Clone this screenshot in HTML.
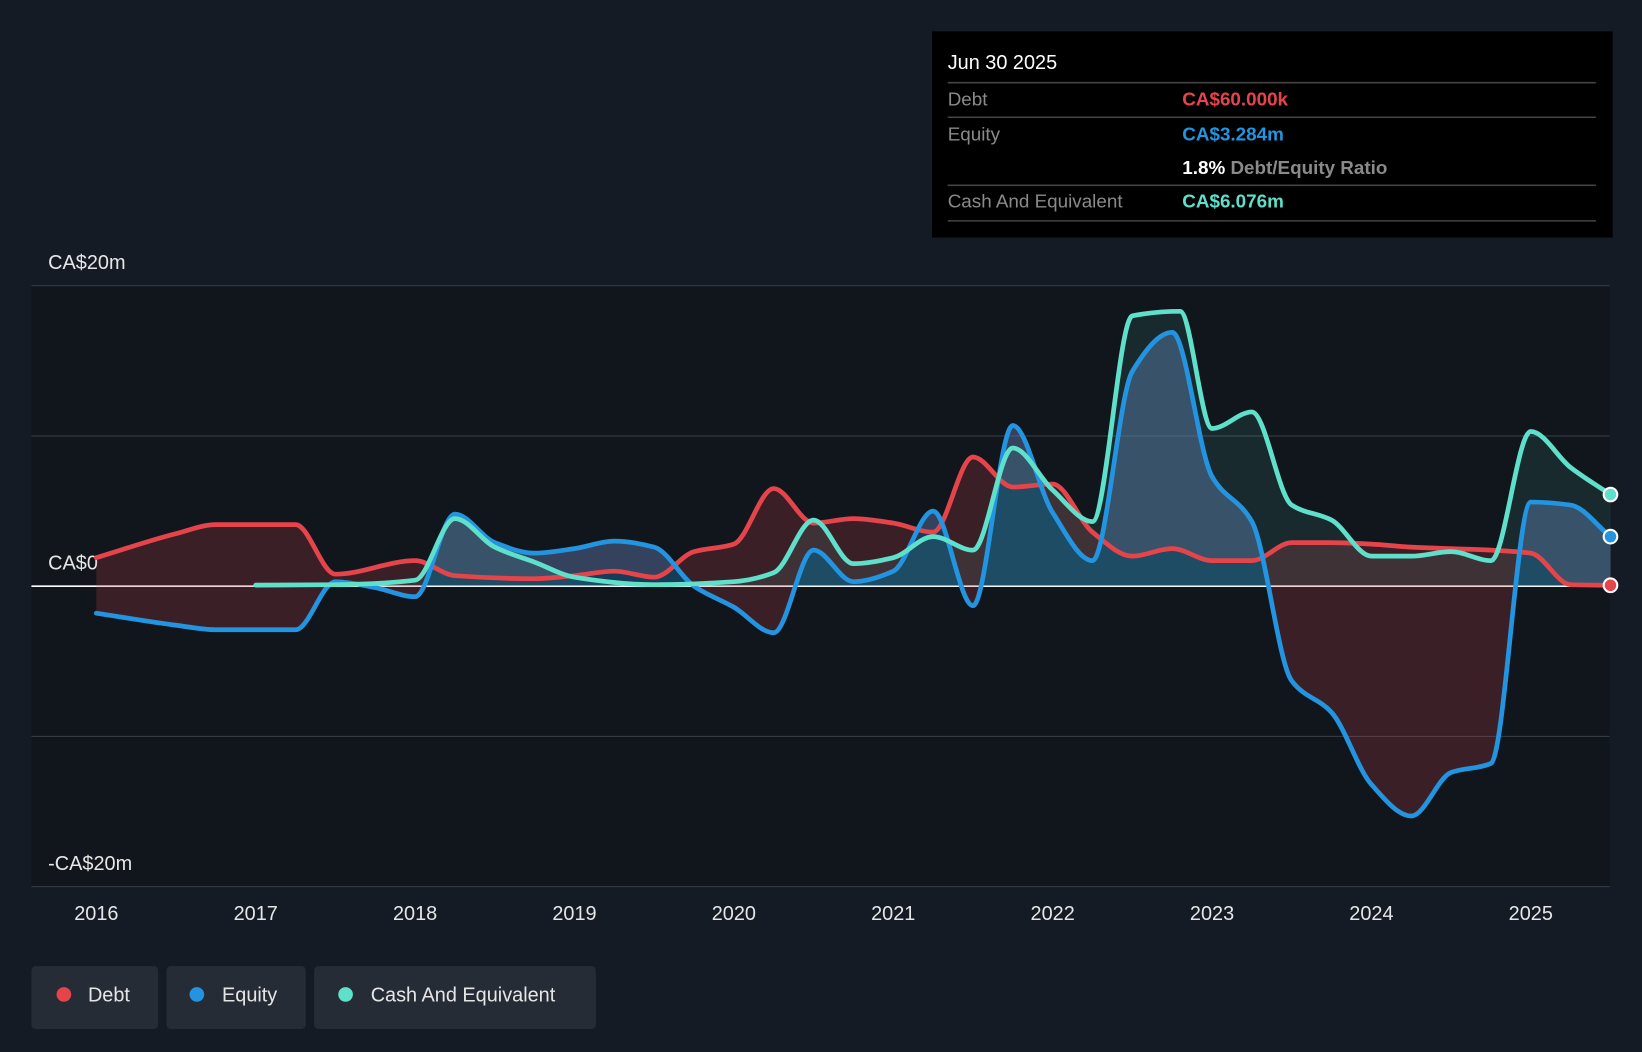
<!DOCTYPE html>
<html><head><meta charset="utf-8"><style>
html,body{margin:0;padding:0;background:#151b24;}
svg{display:block;font-family:"Liberation Sans",sans-serif;}
</style></head><body>
<svg id="chart" width="1642" height="1052" viewBox="0 0 1568 1005" preserveAspectRatio="none">
<defs><clipPath id="above0"><rect x="0" y="0" width="1568" height="560"/></clipPath></defs>
<rect x="0" y="0" width="1568" height="1005" fill="#151b24"/>
<rect x="30" y="273" width="1507" height="574" fill="#11161d"/>
<g id="grid"></g>
<g id="areas"></g>
<g id="lines"></g>
<g id="xaxis"></g>
<g>
<rect x="890" y="30" width="650" height="197" fill="#000"/>
<text x="905" y="66" fill="#fff" font-size="19">Jun 30 2025</text>
<line x1="905" y1="79" x2="1524" y2="79" stroke="#444" stroke-width="1.5"/>
<text x="905" y="101" fill="#8a8a8a" font-size="18">Debt</text>
<text x="1129" y="101" fill="#e5444a" font-size="18" font-weight="bold">CA$60.000k</text>
<line x1="905" y1="112" x2="1524" y2="112" stroke="#444" stroke-width="1.5"/>
<text x="905" y="134" fill="#8a8a8a" font-size="18">Equity</text>
<text x="1129" y="134" fill="#2394e0" font-size="18" font-weight="bold">CA$3.284m</text>
<text x="1129" y="166" fill="#fff" font-size="18" font-weight="bold">1.8% <tspan fill="#8a8a8a">Debt/Equity Ratio</tspan></text>
<line x1="905" y1="177" x2="1524" y2="177" stroke="#444" stroke-width="1.5"/>
<text x="905" y="198" fill="#8a8a8a" font-size="18">Cash And Equivalent</text>
<text x="1129" y="198" fill="#5fe0cb" font-size="18" font-weight="bold">CA$6.076m</text>
<line x1="905" y1="211" x2="1524" y2="211" stroke="#444" stroke-width="1.5"/>
</g>
<g>
<g><rect x="30" y="923" width="121" height="60" rx="4" fill="#262c36"/><circle cx="61" cy="950" r="7" fill="#e5444a"/><text x="84" y="957" fill="#e6e6e6" font-size="19">Debt</text></g>
<g><rect x="159" y="923" width="133" height="60" rx="4" fill="#262c36"/><circle cx="188" cy="950" r="7" fill="#2394e0"/><text x="212" y="957" fill="#e6e6e6" font-size="19">Equity</text></g>
<g><rect x="300" y="923" width="269" height="60" rx="4" fill="#262c36"/><circle cx="330" cy="950" r="7" fill="#5fe0cb"/><text x="354" y="957" fill="#e6e6e6" font-size="19">Cash And Equivalent</text></g>
</g>
</svg>
<script>
const yearTicks=[2016,2017,2018,2019,2020,2021,2022,2023,2024,2025];
const yTickVals=[20,10,0,-10,-20];
const yTickLabels={"20":"CA$20m","0":"CA$0","-20":"-CA$20m"};
const debtT=[2016,2016.5,2016.75,2017.25,2017.5,2018,2018.25,2018.75,2019,2019.25,2019.5,2019.75,2020,2020.25,2020.5,2020.75,2021,2021.25,2021.5,2021.75,2022,2022.25,2022.5,2022.75,2023,2023.25,2023.5,2023.75,2024,2024.25,2024.5,2024.75,2025,2025.25,2025.5];
const debtV=[1.9,3.5,4.1,4.1,0.8,1.7,0.7,0.5,0.7,1.0,0.6,2.3,2.8,6.5,4.2,4.5,4.2,3.6,8.6,6.6,6.8,3.6,2.0,2.5,1.7,1.7,2.9,2.9,2.8,2.6,2.5,2.4,2.2,0.1,0.06];
const eqT=[2016,2016.5,2016.75,2017.25,2017.5,2017.75,2018,2018.25,2018.5,2018.75,2019,2019.25,2019.5,2019.75,2020,2020.25,2020.5,2020.75,2021,2021.25,2021.5,2021.75,2022,2022.25,2022.5,2022.75,2023,2023.25,2023.5,2023.75,2024,2024.25,2024.5,2024.75,2025,2025.25,2025.5];
const eqV=[-1.8,-2.6,-2.9,-2.9,0.3,-0.1,-0.7,4.8,2.9,2.2,2.5,3.0,2.6,0,-1.4,-3.1,2.4,0.3,1.0,5.0,-1.3,10.7,4.9,1.7,14.3,16.9,7.3,4.3,-6.3,-8.4,-13.2,-15.3,-12.4,-11.8,5.6,5.4,3.3];
const cashT=[2017,2017.5,2018,2018.25,2018.5,2018.75,2019,2019.5,2020,2020.25,2020.5,2020.75,2021,2021.25,2021.5,2021.75,2022,2022.25,2022.5,2022.8,2023,2023.25,2023.5,2023.75,2024,2024.25,2024.5,2024.75,2025,2025.25,2025.5];
const cashV=[0.07,0.1,0.4,4.5,2.6,1.6,0.6,0.1,0.3,0.9,4.4,1.5,1.9,3.3,2.4,9.2,6.4,4.3,18.0,18.3,10.5,11.6,5.4,4.4,2.0,2.0,2.3,1.7,10.3,7.9,6.1];

const NS="http://www.w3.org/2000/svg";
const X=t=>92+(t-2016)*152.2;
const Y=v=>560-v*14.35;
function pts(T,V){return T.map((t,i)=>[X(t),Y(V[i])]);}
// monotone cubic (Fritsch-Carlson)
function tangents(p){const n=p.length,d=[],m=[];
 for(let i=0;i<n-1;i++)d.push((p[i+1][1]-p[i][1])/(p[i+1][0]-p[i][0]));
 m[0]=d[0];m[n-1]=d[n-2];
 for(let i=1;i<n-1;i++){if(d[i-1]*d[i]<=0)m[i]=0;else{const h0=p[i][0]-p[i-1][0],h1=p[i+1][0]-p[i][0];m[i]=3*(h0+h1)/((2*h1+h0)/d[i-1]+(h1+2*h0)/d[i]);}}
 return m;}
function smooth(p,m){let s="";for(let i=0;i<p.length-1;i++){const h=(p[i+1][0]-p[i][0])/3;
 s+=` C${p[i][0]+h},${p[i][1]+m[i]*h} ${p[i+1][0]-h},${p[i+1][1]-m[i+1]*h} ${p[i+1][0]},${p[i+1][1]}`;}return s;}
function line(p){return `M${p[0][0]},${p[0][1]}`+smooth(p,tangents(p));}
function revSeg(p){const m=tangents(p);let s="";for(let i=p.length-1;i>0;i--){const h=(p[i][0]-p[i-1][0])/3;
 s+=` C${p[i][0]-h},${p[i][1]-m[i]*h} ${p[i-1][0]+h},${p[i-1][1]+m[i-1]*h} ${p[i-1][0]},${p[i-1][1]}`;}return s;}
function mk(parent,tag,attrs){const e=document.createElementNS(NS,tag);for(const k in attrs)e.setAttribute(k,attrs[k]);document.getElementById(parent).appendChild(e);return e;}

yTickVals.forEach(v=>{
 const l=mk('grid','line',{x1:30,x2:1537,y1:Y(v),y2:Y(v),stroke:v===0?'#ffffff':'#3a404a','stroke-width':v===0?1.5:1});
 
 
 if(yTickLabels[v]!==undefined){const t=mk('grid','text',{x:46,y:Y(v)-16,fill:'#e6e6e6','font-size':19});t.textContent=yTickLabels[v];
 
 }
});
yearTicks.forEach(y=>{const t=mk('xaxis','text',{x:X(y),y:879,fill:'#e6e6e6','font-size':19,'text-anchor':'middle'});t.textContent=y;
 
 });

const dp=pts(debtT,debtV),ep=pts(eqT,eqV),cp=pts(cashT,cashV);
const a1=mk('areas','path',{d:line(dp)+` L${ep[ep.length-1][0]},${ep[ep.length-1][1]}`+revSeg(ep)+'Z',fill:'rgba(229,68,74,0.2)'});


const a2=mk('areas','path',{d:line(ep)+` L${X(eqT[eqT.length-1])},${Y(0)} L${X(eqT[0])},${Y(0)} Z`,fill:'rgba(35,148,224,0.3)','clip-path':'url(#above0)'});


const a3=mk('areas','path',{d:line(cp)+` L${X(cashT[cashT.length-1])},${Y(0)} L${X(cashT[0])},${Y(0)} Z`,fill:'rgba(95,224,203,0.1)'});



[[dp,'#e5444a','debt-line'],[ep,'#2394e0','equity-line'],[cp,'#5fe0cb','cash-line']].forEach(([p,c,n])=>{
 const l=mk('lines','path',{d:line(p),fill:'none',stroke:c,'stroke-width':4.5,'stroke-linecap':'round','stroke-linejoin':'round'});
 
 
 const e=p[p.length-1];
 const m=mk('lines','circle',{cx:e[0],cy:e[1],r:6.5,fill:c,stroke:'#fff','stroke-width':2});
 
 
});
</script>
</body></html>
